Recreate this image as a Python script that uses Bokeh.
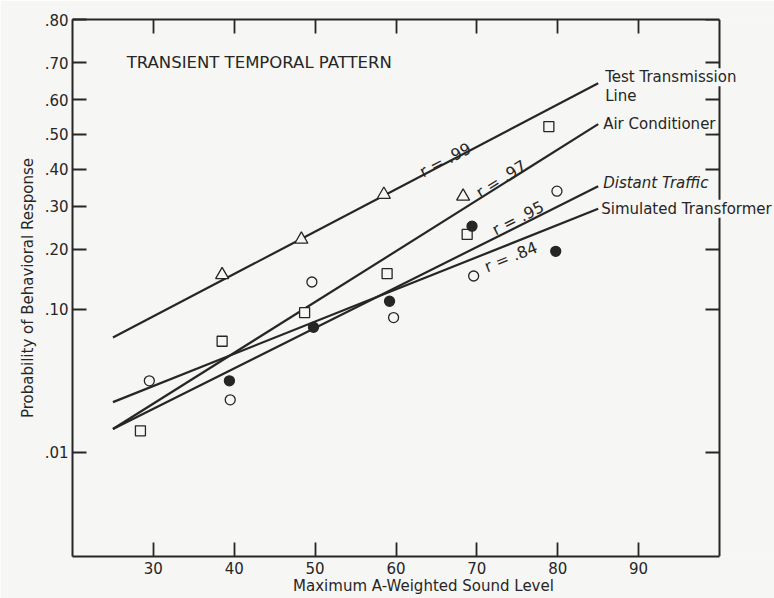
from statistics import NormalDist
from bokeh.plotting import figure
from bokeh.models import Range1d, LinearAxis, FixedTicker, Label
from bokeh.embed import file_html
from bokeh.resources import INLINE

probit = NormalDist().inv_cdf

# ---------------- data ----------------
y_tick_probs = [0.01, 0.10, 0.20, 0.30, 0.40, 0.50, 0.60, 0.70, 0.80]
y_tick_labels = [".01", ".10", ".20", ".30", ".40", ".50", ".60", ".70", ".80"]
x_ticks = [30, 40, 50, 60, 70, 80, 90]
x_min, x_max = 20, 100          # drawn axis extent
y_min_p, y_max_p = 0.001, 0.80

# Test Transmission Line (open triangles)
ttl_x = [38.5, 48.3, 58.5, 68.3]
ttl_p = [0.152, 0.221, 0.330, 0.325]
# Air Conditioner (open squares)
ac_x = [28.4, 38.5, 48.7, 58.9, 68.8, 78.9]
ac_p = [0.015, 0.065, 0.096, 0.154, 0.232, 0.523]
# Distant Traffic (open circles)
dt_x = [29.5, 39.5, 49.6, 59.7, 69.6, 79.9]
dt_p = [0.0356, 0.026, 0.140, 0.090, 0.150, 0.339]
# Simulated Transformer (filled circles)
st_x = [39.4, 49.8, 59.2, 69.4, 79.75]
st_p = [0.0356, 0.079, 0.111, 0.251, 0.196]

# fitted lines
fit_x = [25, 85]
ttl_fit = [0.0685, 0.646]
ac_fit = [0.0155, 0.530]
dt_fit = [0.0155, 0.352]
st_fit = [0.025, 0.293]

r_texts = ["r = .99", "r = .97", "r = .95", "r = .84"]
title_text = "TRANSIENT TEMPORAL PATTERN"

# ---------------- styling ----------------
BG = "#f6f6f4"
INK = "#262626"
FONT = "DejaVu Sans"

# the frame runs to the right edge of the page so that the series names
# (which sit over the right-hand axis) are not clipped; px per unit = 647/80
view_x_max = x_min + (774 - 72) / (647 / 80)

p = figure(width=774, height=598, output_backend="svg", toolbar_location=None,
           x_range=Range1d(x_min, view_x_max),
           y_range=Range1d(probit(y_min_p), probit(y_max_p)),
           x_axis_location=None, y_axis_location=None,
           min_border_left=72, min_border_right=0, min_border_top=19, min_border_bottom=42,
           background_fill_color=BG, border_fill_color=BG)
p.outline_line_color = None
p.xgrid.visible = False
p.ygrid.visible = False

y_ticks = [probit(v) for v in y_tick_probs]
overrides = {t: lab for t, lab in zip(y_ticks, y_tick_labels)}


def style_axis(ax, labels=True):
    ax.axis_line_width = 2
    ax.axis_line_color = INK
    ax.major_tick_line_width = 1.8
    ax.major_tick_line_color = INK
    ax.major_tick_in = 14
    ax.major_tick_out = 0
    ax.minor_tick_line_color = None
    if labels:
        ax.major_label_text_font = FONT
        ax.major_label_text_font_size = "15px"
        ax.major_label_text_color = INK
        ax.axis_label_text_font = FONT
        ax.axis_label_text_font_size = "15px"
        ax.axis_label_text_font_style = "normal"
        ax.axis_label_text_color = INK
    else:
        ax.major_label_text_color = None
        ax.major_label_text_font_size = "1px"
        ax.major_label_standoff = 0


left = LinearAxis(ticker=FixedTicker(ticks=y_ticks), major_label_overrides=overrides,
                  axis_label="Probability of Behavioral Response")
style_axis(left)
left.major_label_standoff = 4
left.axis_label_standoff = 5
p.add_layout(left, "left")

right = LinearAxis(ticker=FixedTicker(ticks=y_ticks), fixed_location=x_max)
style_axis(right, labels=False)
p.add_layout(right, "right")

bottom = LinearAxis(ticker=FixedTicker(ticks=x_ticks), bounds=(x_min, x_max),
                    axis_label="Maximum A-Weighted Sound Level")
style_axis(bottom)
bottom.major_label_standoff = 5
bottom.axis_label_standoff = 0
p.add_layout(bottom, "below")

top = LinearAxis(ticker=FixedTicker(ticks=x_ticks), bounds=(x_min, x_max))
style_axis(top, labels=False)
p.add_layout(top, "above")

# fitted lines
for fit in (ttl_fit, ac_fit, dt_fit, st_fit):
    p.line(fit_x, [probit(v) for v in fit], line_color=INK, line_width=2.2)

# data markers
p.scatter(ttl_x, [probit(v) for v in ttl_p], marker="triangle", size=13,
          fill_color=BG, line_color=INK, line_width=1.3)
p.scatter(ac_x, [probit(v) for v in ac_p], marker="square", size=10,
          fill_color=BG, line_color=INK, line_width=1.3)
p.scatter(dt_x, [probit(v) for v in dt_p], marker="circle", size=10,
          fill_color=BG, line_color=INK, line_width=1.3)
p.scatter(st_x, [probit(v) for v in st_p], marker="circle", size=10,
          fill_color=INK, line_color=INK, line_width=1.3)

# title
p.add_layout(Label(x=26.7, y=probit(0.70), text=title_text, text_font=FONT,
                   text_font_size="16.5px", text_color=INK, text_align="left",
                   text_baseline="middle"))

# correlation annotations
r_pos = [(66.1, 0.426, 27.7), (73.0, 0.372, 32.0), (75.1, 0.270, 27.0), (74.2, 0.185, 22.0)]
for txt, (xx, pp, ang) in zip(r_texts, r_pos):
    p.add_layout(Label(x=xx, y=probit(pp), text=txt, angle=ang, angle_units="deg",
                       text_font=FONT, text_font_size="16px", text_color=INK,
                       text_align="center", text_baseline="middle"))

# series labels at line ends
end_labels = [
    ("Test Transmission", ttl_fit[1], 7, 6, "normal"),
    ("Line", ttl_fit[1], 7, -13, "normal"),
    ("Air Conditioner", ac_fit[1], 5, 0, "normal"),
    ("Distant Traffic", dt_fit[1], 5, 3, "italic"),
    ("Simulated Transformer", st_fit[1], 3, 0, "normal"),
]
for txt, pend, xo, yo, style in end_labels:
    p.add_layout(Label(x=fit_x[1], y=probit(pend), x_offset=xo, y_offset=yo, text=txt,
                       text_font=FONT, text_font_size="15px", text_font_style=style,
                       text_color=INK, text_align="left", text_baseline="middle",
                       background_fill_color=BG))

html = file_html(p, INLINE)
html = html.replace("<body>", '<body style="background-color:%s;">' % BG, 1)
open("out.html", "w").write(html)
